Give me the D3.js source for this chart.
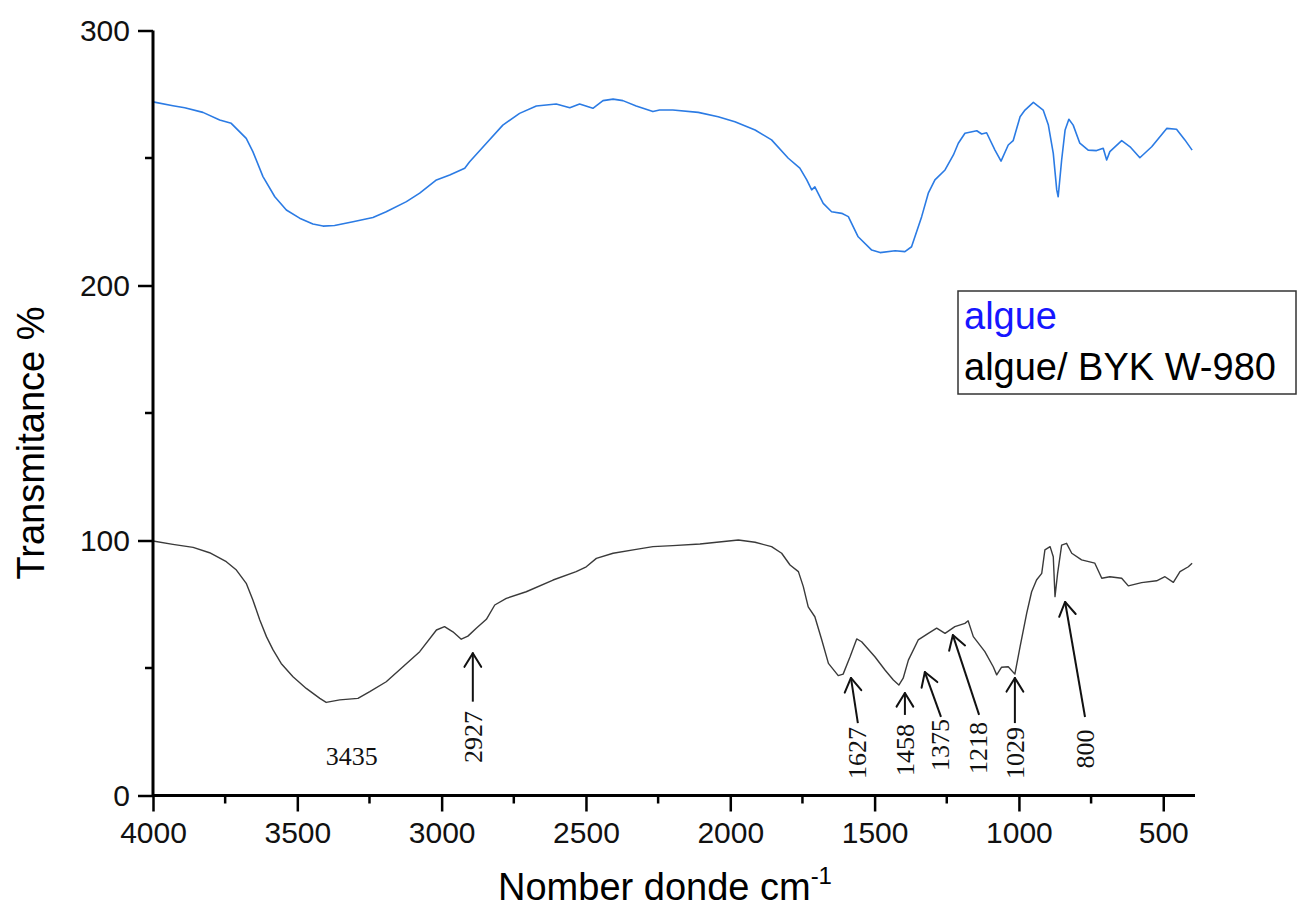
<!DOCTYPE html>
<html>
<head>
<meta charset="utf-8">
<script src="https://cdn.jsdelivr.net/npm/d3@7/dist/d3.min.js"></script>
<style>
  html, body { margin: 0; padding: 0; background: #fff; }
  svg { display: block; }
</style>
</head>
<body>
<svg id="chart" width="1301" height="913"></svg>
<script>
// ---- Data ----
const algueWavenumber = [4000,3931,3890,3827,3769,3729,3677,3654,3619,3578,3538,3492,3446,3411,3371,3307,3238,3192,3122,3076,3018,2972,2920,2903,2845,2788,2730,2672,2603,2556,2522,2476,2441,2406,2372,2326,2268,2245,2199,2111,2042,1984,1914,1857,1799,1759,1735,1718,1707,1678,1649,1614,1591,1557,1510,1481,1429,1395,1372,1337,1314,1291,1256,1227,1210,1187,1146,1129,1112,1083,1062,1037,1020,996,979,950,916,898,881,869,864,852,840,827,812,789,760,731,708,696,685,644,615,581,540,488,454,425,400];
const algueValues = [272,270.5,269.7,267.9,264.9,263.6,257.7,252.5,242.7,234.8,229.6,226.4,224.1,223.3,223.5,225.0,226.7,228.9,232.9,236.2,241.4,243.3,246.0,248.5,255.8,262.9,267.5,270.4,271.2,269.7,271.2,269.5,272.5,273.1,272.5,270.4,268.2,268.8,268.8,267.9,266.2,264.2,261.0,257.1,249.9,246.0,241.4,237.5,238.7,232.2,228.9,228.3,227.0,219.1,213.9,212.9,213.6,213.3,215.2,227.0,236.2,241.4,245.3,251.2,255.8,259.7,260.7,259.4,259.9,253.1,248.8,255.1,256.8,266.2,268.8,271.8,268.8,262.9,251.8,237.5,234.8,249.2,261.0,265.2,262.9,255.8,253.1,252.9,253.8,249.2,252.5,256.8,254.4,250.1,254.4,261.6,261.3,257.1,253.1];

const bykWavenumber = [4000,3931,3861,3804,3746,3711,3677,3654,3630,3607,3584,3556,3515,3469,3422,3400,3353,3290,3249,3192,3134,3076,3018,2990,2961,2932,2909,2880,2845,2816,2776,2707,2614,2534,2499,2464,2406,2326,2268,2199,2105,2047,1972,1914,1857,1822,1793,1764,1747,1730,1707,1683,1660,1626,1609,1585,1562,1545,1499,1464,1435,1416,1401,1383,1349,1314,1285,1256,1222,1187,1176,1158,1118,1089,1077,1060,1037,1014,996,973,956,939,921,910,892,881,875,866,852,835,817,783,737,713,685,644,621,575,523,494,465,442,413,400];
const bykValues = [99.8,98.5,97.3,95.2,91.7,88.4,83.2,76.7,68.8,62.3,57.1,51.8,46.6,42.0,38.1,36.5,37.5,38.1,40.7,44.6,50.5,56.4,64.9,66.2,64.2,61.3,62.5,65.6,69.1,74.7,77.3,79.9,84.5,87.8,89.7,93.0,95.0,96.5,97.6,98.0,98.6,99.3,100.2,99.3,97.6,95.0,90.4,87.8,81.9,74.0,70.1,61.0,51.8,47.0,47.6,54.4,61.4,60.3,54.4,49.2,45.3,43.3,46.0,53.1,61.0,63.6,65.6,63.6,66.2,67.5,68.5,62.3,56.4,50.5,47.3,50.3,50.5,47.6,58.4,71.5,79.9,84.5,87.1,96.3,97.6,93.6,78.0,87.1,98.2,98.9,95.0,92.4,91.1,85.2,85.8,85.2,82.2,83.5,84.2,85.8,83.6,87.8,89.7,91.1];

const seriesNames = ["algue", "algue/ BYK W-980"];
const xTickValues = [4000,3500,3000,2500,2000,1500,1000,500];
const xMinorTicks = [3750,3250,2750,2250,1750,1250,750];
const yTickValues = [0,100,200,300];
const yMinorTicks = [50,150,250];

// Peak annotations: label, arrow tip (wavenumber, value), arrow tail, label centre
const peakLabels   = ["2927","1627","1458","1375","1218","1029","800"];
const peakTipX     = [2892,1582,1395,1326,1229,1014,840];
const peakTipY     = [55.8,46.1,40.2,48.4,62.9,46.1,75.9];
const peakTailX    = [2892,1558,1395,1270,1138,1014,771];
const peakTailY    = [36.8,28.4,31.6,30.8,31.6,28.4,30.8];
const peakLabelX   = [2892,1562,1395,1274,1142,1014,771];
const peakLabelY   = [22.9,16.7,17.8,19.8,18.6,16.7,18.2];
// Horizontal broad-band label
const bandLabel = "3435", bandLabelX = 3311, bandLabelY = 12.0;

// ---- Layout ----
const svg = d3.select("#chart");
const mLeft = 153, mRight = 1195, mTop = 30.5, mBottom = 795.5;

const x = d3.scaleLinear().domain([4000, 390]).range([mLeft, mRight]);
const y = d3.scaleLinear().domain([0, 300]).range([mBottom, mTop]);

const sans = "Arial, 'Liberation Sans', Helvetica, sans-serif";
const serif = "'Times New Roman', 'Liberation Serif', serif";

// ---- Curves ----
const line = d3.line().x(d => x(d[0])).y(d => y(d[1]));
const algueData = algueWavenumber.map((w, i) => [w, algueValues[i]]);
const bykData = bykWavenumber.map((w, i) => [w, bykValues[i]]);

svg.append("path").datum(bykData).attr("d", line)
  .attr("fill", "none").attr("stroke", "#3a3a3a").attr("stroke-width", 1.4)
  .attr("stroke-linejoin", "round");
svg.append("path").datum(algueData).attr("d", line)
  .attr("fill", "none").attr("stroke", "#2b7be4").attr("stroke-width", 1.6)
  .attr("stroke-linejoin", "round");

// ---- Axes ----
const xAxis = svg.append("g").attr("transform", `translate(0,${mBottom})`)
  .call(d3.axisBottom(x).tickValues(xTickValues).tickSize(16).tickPadding(10).tickFormat(d3.format("d")));
xAxis.append("g").selectAll("line").data(xMinorTicks).join("line")
  .attr("x1", d => x(d)).attr("x2", d => x(d)).attr("y1", 0).attr("y2", 8)
  .attr("stroke", "#000").attr("stroke-width", 2.5);

const yAxis = svg.append("g").attr("transform", `translate(${mLeft},0)`)
  .call(d3.axisLeft(y).tickValues(yTickValues).tickSize(15).tickPadding(8).tickFormat(d3.format("d")));
yAxis.append("g").selectAll("line").data(yMinorTicks).join("line")
  .attr("y1", d => y(d)).attr("y2", d => y(d)).attr("x1", 0).attr("x2", -8)
  .attr("stroke", "#000").attr("stroke-width", 2.5);

xAxis.select(".domain").attr("d", `M${mLeft},0H${mRight}`);
yAxis.select(".domain").attr("d", `M0,${mTop}V${mBottom}`);
[xAxis, yAxis].forEach(g => {
  g.select(".domain").attr("stroke", "#000").attr("stroke-width", 3);
  g.selectAll(".tick line").attr("stroke", "#000").attr("stroke-width", 2.5);
  g.selectAll(".tick text").attr("fill", "#111").style("font-family", sans).style("font-size", "30px");
});

// Axis titles
const xTitle = svg.append("text").attr("x", 665).attr("y", 900).attr("text-anchor", "middle")
  .style("font-family", sans).style("font-size", "38px").attr("fill", "#000");
xTitle.append("tspan").text("Nomber donde cm");
xTitle.append("tspan").text("-1").attr("dy", -16).style("font-size", "24px");

svg.append("text").attr("transform", `translate(44,${(mTop + mBottom) / 2 + 30}) rotate(-90)`)
  .attr("text-anchor", "middle").style("font-family", sans).style("font-size", "38px")
  .attr("fill", "#000").text("Transmitance %");

// ---- Legend ----
const legend = svg.append("g");
legend.append("rect").attr("x", 958).attr("y", 291).attr("width", 338).attr("height", 103)
  .attr("fill", "#fff").attr("stroke", "#333").attr("stroke-width", 1.5);
const legendColors = ["#1616ff", "#000"];
seriesNames.forEach((name, i) => {
  legend.append("text").attr("x", 964).attr("y", 329 + i * 51)
    .style("font-family", sans).style("font-size", "38px")
    .attr("fill", legendColors[i]).text(name);
});

// ---- Annotations ----
const ann = svg.append("g");
peakLabels.forEach((lab, i) => {
  const tx = x(peakTipX[i]), ty = y(peakTipY[i]);
  const sx = x(peakTailX[i]), sy = y(peakTailY[i]);
  ann.append("line").attr("x1", sx).attr("y1", sy).attr("x2", tx).attr("y2", ty)
    .attr("stroke", "#111").attr("stroke-width", 2);
  const a = Math.atan2(sy - ty, sx - tx);
  const L = 16, spread = 0.55;
  [a - spread, a + spread].forEach(b => {
    ann.append("line").attr("x1", tx).attr("y1", ty)
      .attr("x2", tx + L * Math.cos(b)).attr("y2", ty + L * Math.sin(b))
      .attr("stroke", "#111").attr("stroke-width", 2).attr("stroke-linecap", "round");
  });
  ann.append("text")
    .attr("transform", `translate(${x(peakLabelX[i]) + 9},${y(peakLabelY[i])}) rotate(-90)`)
    .attr("text-anchor", "middle").style("font-family", serif).style("font-size", "26px")
    .attr("fill", "#111").text(lab);
});
ann.append("text").attr("x", x(bandLabelX)).attr("y", y(bandLabelY)).attr("text-anchor", "middle")
  .style("font-family", serif).style("font-size", "26px").attr("fill", "#111").text(bandLabel);
</script>
</body>
</html>
